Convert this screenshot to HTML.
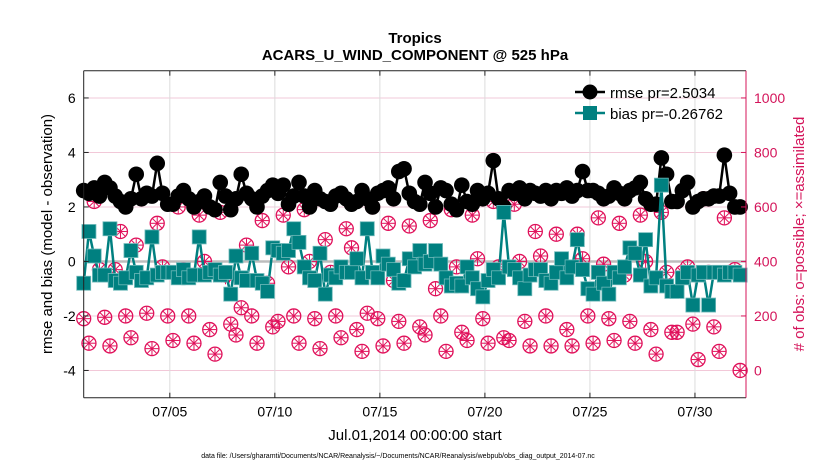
<!DOCTYPE html>
<html><head><meta charset="utf-8"><style>
body{margin:0;background:#fff;font-family:"Liberation Sans",sans-serif;}
svg text{font-family:"Liberation Sans",sans-serif;}
</style></head><body>
<svg id="chart" width="830" height="470" viewBox="0 0 830 470" xmlns="http://www.w3.org/2000/svg">
<rect width="830" height="470" fill="#fff"/>
<text x="415" y="43" text-anchor="middle" font-size="15" font-weight="bold">Tropics</text>
<text x="415" y="60" text-anchor="middle" font-size="15" font-weight="bold">ACARS_U_WIND_COMPONENT @ 525 hPa</text>
<g id="grid"></g>
<g id="marks"></g>
<g id="axes"></g>
<text x="415" y="440" text-anchor="middle" font-size="15">Jul.01,2014 00:00:00 start</text>
<text transform="translate(52,234) rotate(-90)" text-anchor="middle" font-size="15">rmse and bias (model - observation)</text>
<text transform="translate(804,234) rotate(-90)" text-anchor="middle" font-size="15" fill="#d4145a"># of obs: o=possible; ×=assimilated</text>
<text x="398" y="458" text-anchor="middle" font-size="7">data file: /Users/gharamti/Documents/NCAR/Reanalysis/~/Documents/NCAR/Reanalysis/webpub/obs_diag_output_2014-07.nc</text>
<g id="legend">
<line x1="575" y1="92" x2="605" y2="92" stroke="#000" stroke-width="2.5"/>
<circle cx="590" cy="92" r="7.5" fill="#000"/>
<text x="610" y="98" font-size="15">rmse pr=2.5034</text>
<line x1="575" y1="113" x2="605" y2="113" stroke="#008080" stroke-width="2.5"/>
<rect x="583" y="106" width="14" height="14" fill="#008080"/>
<text x="610" y="119" font-size="15">bias pr=-0.26762</text>
</g>
</svg>
<script>
const rmse=[2.6,2.5,2.7,2.4, 2.9,2.7,2.4,2.2, 2.0,2.3,3.2,2.3, 2.5,2.4,3.6,2.5, 2.1,2.1,2.4,2.6, 2.3,2.0,2.2,2.4, 2.0,1.9,2.9,2.4, 1.9,2.3,3.2,2.5, 2.3,2.0,2.4,2.6, 2.8,2.5,2.8,2.1, 2.4,2.9,2.4,2.0, 2.6,2.3,2.2,2.1, 2.4,2.5,2.3,2.1, 2.2,2.6,2.3,2.0, 2.5,2.6,2.7,2.3, 3.3,3.4,2.5,2.2, 2.1,2.9,2.5,2.0, 2.7,2.6,2.1,1.9, 2.8,2.2,2.1,2.6, 2.3,2.5,3.7,2.3, 2.0,2.6,2.5,2.7, 2.3,2.6,2.5,2.4, 2.6,2.3,2.6,2.5, 2.7,2.4,2.6,3.3, 2.6,2.6,2.5,2.3, 2.4,2.7,2.5,2.3, 2.6,2.7,2.9,2.3, 2.1,2.1,3.8,3.2, 2.2,2.2,2.6,2.9, 2.0,2.2,2.3,2.3, 2.4,2.4,3.9,2.5, 2.0,2.0];
const bias=[-0.8,1.1,0.2,-0.5, -0.5,1.2,-0.7,-0.8, -0.6,0.4,-0.4,-0.7, -0.6,0.9,-0.5,-0.4, -0.4,-0.4,-0.6,-0.3, -0.6,-0.5,0.9,-0.5, -0.4,-0.3,-0.5,-0.4, -1.2,0.2,-0.6,-0.7, 0.3,-0.7,-0.8,-1.1, 0.5,0.4,0.3,0.4, 1.2,0.7,-0.2,-0.6, -0.7,0.3,-1.2,-0.5, -0.6,-0.2,-0.4,-0.4, 0.1,-0.6,1.2,-0.4, -0.6,0.2,-0.1,-0.3, -0.8,-0.7,0.1,-0.2, 0.4,-0.1,0.0,0.4, -0.1,-0.6,-0.9,-0.8, -0.9,-0.2,-0.6,-1.0, -1.3,-0.7,-0.3,-0.6, 1.8,-0.2,-0.3,-0.6, -1.0,-0.5,-0.3,-0.3, -0.7,-0.8,-0.4,0.1, -0.6,-0.2,0.8,-0.3, -1.0,-1.2,-0.4,-0.8, -1.2,-0.4,-0.6,-0.2, 0.5,0.3,-0.5,0.8, -0.9,-0.6,2.8,-0.9, -1.1,-1.1,-0.6,-0.4, -1.6,-0.5,-0.4,-1.6, -0.4,-0.4,-0.5,-0.4, -0.4,-0.5];
const obsPossible=[190,100,620,370, 195,90,370,510, 200,120,460,340, 210,80,540,380, 200,110,600,370, 200,100,570,400, 150,60,580,350, 170,130,230,460, 200,100,550,320, 160,180,570,380, 200,100,590,400, 190,80,480,360, 200,120,520,450, 150,70,210,600, 190,90,540,330, 180,100,530,390, 160,130,550,300, 200,70,590,380, 140,110,570,410, 190,100,620,380, 120,110,610,400, 180,90,510,420, 200,90,500,370, 150,90,500,410, 200,100,560,390, 190,110,540,350, 180,100,570,400, 150,60,580,360, 140,140,360,380, 170,40,630,360, 160,70,560,360, 370,0];
const obsAssim=[190,100,620,370, 195,90,370,510, 200,120,460,340, 210,80,540,380, 200,110,600,370, 200,100,570,400, 150,60,580,340, 170,130,230,460, 200,100,550,320, 160,180,570,380, 200,100,590,400, 190,80,480,360, 200,120,520,450, 150,70,210,600, 190,90,540,330, 180,100,530,380, 160,130,550,300, 200,70,590,380, 140,110,570,410, 190,100,620,380, 120,110,610,400, 180,90,510,420, 200,90,500,370, 150,90,500,410, 200,100,560,390, 190,110,540,350, 180,100,570,400, 150,60,580,360, 140,140,360,380, 170,40,630,360, 160,70,560,360, 370,0];
const xTickLabels=["07/05","07/10","07/15","07/20","07/25","07/30"];
const xTickDays=[4,9,14,19,24,29];
const leftTicks=[-4,-2,0,2,4,6];
const rightTicks=[0,200,400,600,800,1000];
const t0=-0.1, dt=0.25;

const L=83.7,R=746,T=70.7,B=397.7;
const xDom=[-0.1,31.43], yDom=[-5,7], rDom=[-100,1100];
const X=d=>L+(d-xDom[0])/(xDom[1]-xDom[0])*(R-L);
const Y=v=>B-(v-yDom[0])/(yDom[1]-yDom[0])*(B-T);
const YR=v=>B-(v-rDom[0])/(rDom[1]-rDom[0])*(B-T);
const NS="http://www.w3.org/2000/svg";
function mk(tag,attrs,parent){const e=document.createElementNS(NS,tag);for(const k in attrs)e.setAttribute(k,attrs[k]);parent.appendChild(e);return e;}
const grid=document.getElementById('grid'),marks=document.getElementById('marks'),axes=document.getElementById('axes');

leftTicks.forEach(v=>{const g=mk('line',{x1:L,x2:R,y1:Y(v),y2:Y(v),stroke:'#f2c8d8','stroke-width':1},grid);

});
xTickDays.forEach(d=>{const g=mk('line',{x1:X(d),x2:X(d),y1:T,y2:B,stroke:'#dcdcdc','stroke-width':1},grid);

});
const zl=mk('line',{x1:L,x2:R,y1:Y(0),y2:Y(0),stroke:'#bdbdbd','stroke-width':2.5},grid);



const tx=i=>t0+i*dt;
function obsMarker(cx,cy,isAssim){
  const g=mk('g',{},marks);
  if(!isAssim){mk('circle',{cx:cx,cy:cy,r:7,fill:'none',stroke:'#e0105a','stroke-width':1.3},g);}
  else{for(let a=0;a<4;a++){const an=a*Math.PI/4;mk('line',{x1:cx-6.5*Math.cos(an),y1:cy-6.5*Math.sin(an),x2:cx+6.5*Math.cos(an),y2:cy+6.5*Math.sin(an),stroke:'#e0105a','stroke-width':1},g);}}
  return g;
}
obsPossible.forEach((v,i)=>{const g=obsMarker(X(tx(i)),YR(v),false);

});
obsAssim.forEach((v,i)=>{const g=obsMarker(X(tx(i)),YR(v),true);

});

const rl=mk('polyline',{points:rmse.map((v,i)=>X(tx(i))+','+Y(v)).join(' '),fill:'none',stroke:'#000','stroke-width':2.5},marks);


rmse.forEach((v,i)=>{const c=mk('circle',{cx:X(tx(i)),cy:Y(v),r:7.8,fill:'#000'},marks);

});
const bl=mk('polyline',{points:bias.map((v,i)=>X(tx(i))+','+Y(v)).join(' '),fill:'none',stroke:'#008080','stroke-width':2.5},marks);


bias.forEach((v,i)=>{const s=mk('rect',{x:X(tx(i))-7,y:Y(v)-7,width:14,height:14,fill:'#008080',stroke:'#6fb9b9','stroke-width':0.8},marks);

});

mk('line',{x1:L,x2:L,y1:T,y2:B,stroke:'#222','stroke-width':1},axes);
mk('line',{x1:L,x2:R,y1:B,y2:B,stroke:'#222','stroke-width':1},axes);
mk('line',{x1:L,x2:R,y1:T,y2:T,stroke:'#222','stroke-width':1},axes);
mk('line',{x1:R,x2:R,y1:T,y2:B,stroke:'#d4145a','stroke-width':1},axes);
leftTicks.forEach(v=>{mk('line',{x1:L,x2:L+5,y1:Y(v),y2:Y(v),stroke:'#222'},axes);
const t=mk('text',{x:L-8,y:Y(v)+5,'text-anchor':'end','font-size':14},axes);t.textContent=v;

});
rightTicks.forEach(v=>{mk('line',{x1:R-5,x2:R,y1:YR(v),y2:YR(v),stroke:'#d4145a'},axes);
const t=mk('text',{x:R+8,y:YR(v)+5,'font-size':14,fill:'#d4145a'},axes);t.textContent=v;

});
xTickDays.forEach((d,i)=>{mk('line',{x1:X(d),x2:X(d),y1:B,y2:B-5,stroke:'#222'},axes);mk('line',{x1:X(d),x2:X(d),y1:T,y2:T+5,stroke:'#222'},axes);
const t=mk('text',{x:X(d),y:B+19,'text-anchor':'middle','font-size':14},axes);t.textContent=xTickLabels[i];

});
</script>
</body></html>
